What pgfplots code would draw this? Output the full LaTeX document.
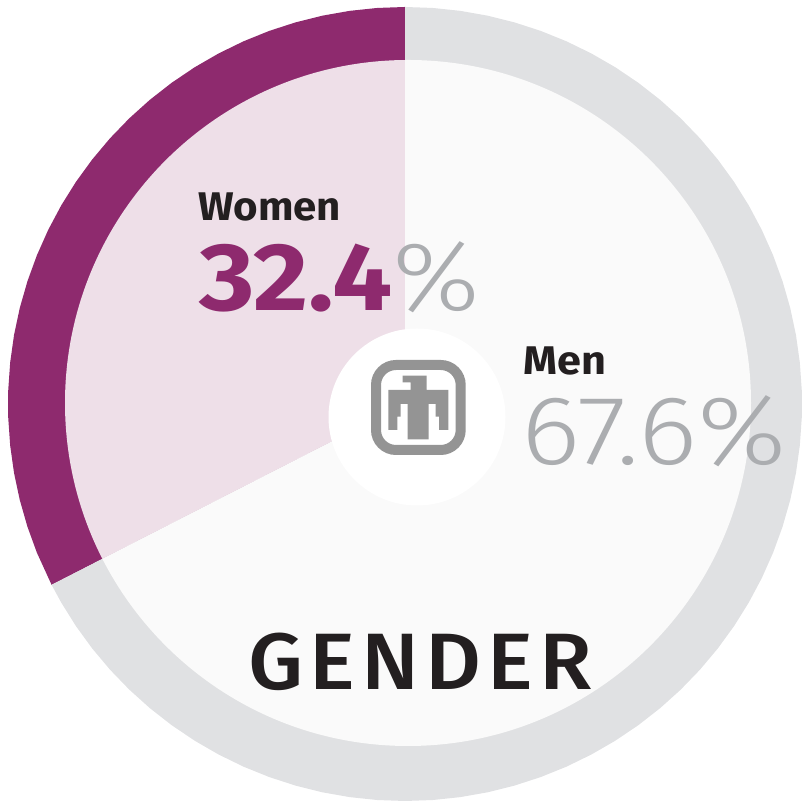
\documentclass[border=0pt]{standalone}
\usepackage{pgfplots}
\usepackage{fontspec}
\pgfplotsset{compat=1.18}
\setmainfont{Fira Sans}
\newfontfamily\lightf{Fira Sans Light}
\newfontfamily\boldf{Fira Sans Bold}
\newfontfamily\medf[LetterSpace=7]{Fira Sans Medium}
\definecolor{dark}{HTML}{8E2A6E}
\definecolor{lightw}{HTML}{EEDFE8}
\definecolor{ring}{HTML}{E0E1E3}
\definecolor{bgm}{HTML}{FAFAFA}
\definecolor{ink}{HTML}{231F20}
\definecolor{gtext}{HTML}{ABADB0}
\definecolor{logo}{HTML}{949494}
% angle, radius
\pgfplotstableread{
a r
0 0
90 397
94 397
98 397
102 397
106 397
110 397
114 397
118 397
122 397
126 397
130 397
134 397
138 397
142 397
146 397
150 397
154 397
158 397
162 397
166 397
170 397
174 397
178 397
182 397
186 397
190 397
194 397
198 397
202 397
207.1 397
}\women
\pgfplotstableread{
a r
0 0
207.1 397
210 397
214 397
218 397
222 397
226 397
230 397
234 397
238 397
242 397
246 397
250 397
254 397
258 397
262 397
266 397
270 397
274 397
278 397
282 397
286 397
290 397
294 397
298 397
302 397
306 397
310 397
314 397
318 397
322 397
326 397
330 397
334 397
338 397
342 397
346 397
350 397
354 397
358 397
362 397
366 397
370 397
374 397
378 397
382 397
386 397
390 397
394 397
398 397
402 397
406 397
410 397
414 397
418 397
422 397
426 397
430 397
434 397
438 397
442 397
446 397
450 397
}\men
\begin{document}
\begin{tikzpicture}
\useasboundingbox (0,0) rectangle (402pt,400.5pt);
\begin{axis}[
  at={(0,0)},anchor=south west,
  scale only axis,width=402pt,height=400.5pt,
  xmin=-405,xmax=399,ymin=-397,ymax=404,
  hide axis,clip=false]
\addplot[data cs=polar,fill=dark,draw=none] table[x=a,y=r] {\women};
\addplot[data cs=polar,fill=ring,draw=none] table[x=a,y=r] {\men};
\begin{scope}
\clip (axis cs:3,1) circle [radius=171.5pt];
\addplot[data cs=polar,fill=lightw,draw=none] table[x=a,y=r] {\women};
\addplot[data cs=polar,fill=bgm,draw=none] table[x=a,y=r] {\men};
\end{scope}
\fill[white] (axis cs:12,-13) circle [radius=44.25pt];
\draw[logo,line width=5pt,rounded corners=10pt] (axis cs:-29,39) rectangle (axis cs:55.7,-46);
\addplot[fill=logo,draw=none] coordinates {(-2.33,28.33)(21.67,28.33)(21.67,14)(43.33,14)(43.33,-26)(34,-26)(34,-12.67)(30.67,-12.67)(30.67,0)(23.67,0)(23.67,-35.33)(2.67,-35.33)(2.67,0)(-4.33,0)(-4.33,-12.67)(-7.67,-12.67)(-7.67,-26)(-16.67,-26)(-16.67,14)(5.67,14)(5.67,21.67)(-2.33,21.67)} --cycle;
\node[anchor=base west,inner sep=0,text=ink,font=\boldf\fontsize{20}{20}\selectfont] at (axis cs:-207,183) {\scalebox{1.05}[1]{Women}};
\node[anchor=base west,inner sep=0,text=dark,font=\boldf\fontsize{48}{48}\selectfont] at (axis cs:-206,93) {\scalebox{1.11}[1]{32.4}};
\node[anchor=base west,inner sep=0,text=gtext,font=\lightf\fontsize{49}{49}\selectfont] at (axis cs:-13,93) {\scalebox{1.13}[1]{\%}};
\node[anchor=base west,inner sep=0,text=ink,font=\boldf\fontsize{20}{20}\selectfont] at (axis cs:118,29) {\scalebox{1.08}[1]{Men}};
\node[anchor=base west,inner sep=0,text=gtext,font=\lightf\fontsize{49}{49}\selectfont] at (axis cs:116,-61) {\scalebox{1.15}[1]{67.6\%}};
\node[anchor=base west,inner sep=0,text=ink,font=\medf\fontsize{40}{40}\selectfont] at (axis cs:-157,-286) {\scalebox{1.08}[1]{GENDER}};
\end{axis}
\end{tikzpicture}
\end{document}
